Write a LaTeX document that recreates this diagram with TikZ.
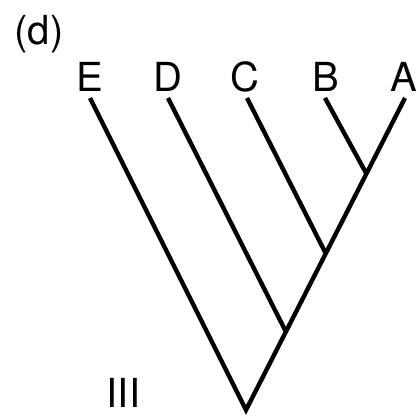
\documentclass[tikz,border=0pt]{standalone}
\usepackage{fontspec}
\setmainfont{TeX Gyre Heros}
\begin{document}
\begin{tikzpicture}[x=1pt,y=-1pt,
  branch/.style={line width=4.4pt,line join=miter,line cap=butt},
  taxon/.style={font=\fontsize{40}{40}\selectfont,anchor=base,inner sep=0pt}]
\useasboundingbox (0,0) rectangle (416,417);
\coordinate (root) at (246,410);
\coordinate (nD) at (286,332);
\coordinate (nC) at (325.5,253);
\coordinate (nB) at (366,173);
\coordinate (tE) at (90,98);
\coordinate (tD) at (168,98);
\coordinate (tC) at (247,98);
\coordinate (tB) at (325,98);
\coordinate (tA) at (405,98);
\draw[branch] (tE) -- (root) -- (tA);
\draw[branch] (nD) -- (tD);
\draw[branch] (nC) -- (tC);
\draw[branch] (nB) -- (tB);
\node[taxon] (lE) at (90,92) {E};
\node[taxon] (lD) at (168,92) {D};
\node[taxon] (lC) at (244.5,92) {C};
\node[taxon] (lB) at (326,92) {B};
\node[taxon] (lA) at (404,92) {A};
\node[taxon] (lIII) at (123.5,407) {III};
\node[taxon] (lpanel) at (39,45) {(d)};
\end{tikzpicture}
\end{document}
